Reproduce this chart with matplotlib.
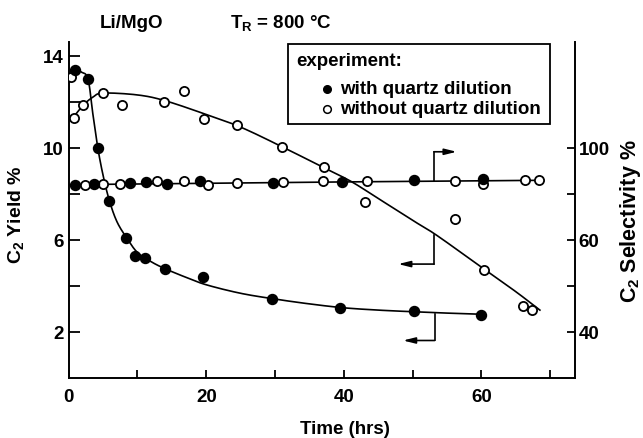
import numpy as np
import matplotlib
matplotlib.use("Agg")
import matplotlib.pyplot as plt
from matplotlib.patches import Rectangle
from matplotlib.lines import Line2D

plt.rcParams['font.family'] = ['Liberation Sans', 'DejaVu Sans']
plt.rcParams['font.weight'] = 'bold'
plt.rcParams['axes.labelweight'] = 'bold'
plt.rcParams['mathtext.fontset'] = 'custom'
plt.rcParams['mathtext.rm'] = 'Liberation Sans:bold'
plt.rcParams['mathtext.it'] = 'Liberation Sans:bold'
plt.rcParams['mathtext.bf'] = 'Liberation Sans:bold'
FS = 13.5
plt.rcParams['font.size'] = FS

# ---------------- data ----------------
# C2 yield, with quartz dilution (filled)
t_yield_q = [0.9, 2.8, 4.2, 5.9, 8.4, 9.6, 11.1, 14.0, 19.5, 29.5, 39.5, 50.2, 60.0]
y_yield_q = [13.4, 13.0, 10.0, 7.7, 6.1, 5.3, 5.2, 4.75, 4.4, 3.45, 3.05, 2.9, 2.75]
# C2 yield, without quartz dilution (open)
t_yield_nq = [0.4, 0.7, 2.1, 5.0, 7.8, 13.9, 16.7, 19.7, 24.5, 31.0, 37.1, 43.1, 56.1, 60.3, 66.0, 67.3]
y_yield_nq = [13.1, 11.3, 11.85, 12.4, 11.85, 12.0, 12.45, 11.25, 11.0, 10.05, 9.15, 7.65, 6.9, 4.7, 3.15, 2.95]
# C2 selectivity (right axis units)
t_sel_q = [0.9, 3.7, 8.9, 11.2, 14.3, 19.1, 29.7, 39.8, 50.2, 60.2]
s_sel_q = [72.0, 72.2, 72.4, 72.6, 72.2, 72.9, 72.4, 72.6, 73.1, 73.2]
t_sel_nq = [2.4, 5.0, 7.4, 12.9, 16.7, 20.2, 24.4, 31.2, 37.0, 43.3, 56.1, 60.2, 66.3, 68.4]
s_sel_nq = [72.0, 72.2, 72.2, 72.9, 72.9, 72.0, 72.4, 72.5, 72.8, 72.9, 72.9, 72.2, 73.1, 73.1]

# fitted curves drawn through the data (knots)
fit_q_t = [0, 0.5, 1.0, 1.8, 2.8, 3.5, 4.2, 5.0, 5.9, 7.0, 8.4, 10, 12, 14, 17, 20, 25, 30, 35, 40, 45, 50, 55, 60]
fit_q_y = [12.9, 13.3, 13.42, 13.3, 13.0, 11.5, 10.05, 8.8, 7.72, 6.8, 6.1, 5.45, 5.05, 4.75, 4.38, 4.05, 3.68, 3.43, 3.22, 3.05, 2.95, 2.88, 2.82, 2.77]
fit_nq_t = [0.6, 2.1, 3.5, 5.0, 10, 14, 20, 25, 31, 37, 41, 45, 50, 53.5, 60.3, 65, 68.5]
fit_nq_y = [11.3, 11.85, 12.2, 12.38, 12.3, 12.05, 11.45, 10.9, 10.05, 9.15, 8.55, 7.8, 6.85, 6.2, 4.75, 3.75, 2.95]
fit_sel_t = [0, 20, 40, 68.5]
fit_sel_s = [72.0, 72.3, 72.6, 72.95]

x_ticks = [0, 10, 20, 30, 40, 50, 60, 70]
x_ticklabels = ['0', '', '20', '', '40', '', '60', '']
yl_ticks = [2, 4, 6, 8, 10, 12, 14]
yl_ticklabels = ['2', '', '6', '', '10', '', '14']
yr_ticks = [40, 50, 60, 70, 80]
yr_ticklabels = ['40', '', '60', '', '100']


def catmull(x, y, n=16):
    x = np.asarray(x, float); y = np.asarray(y, float)
    P = np.column_stack([x, y])
    P = np.vstack([2 * P[0] - P[1], P, 2 * P[-1] - P[-2]])
    out = []
    for i in range(1, len(P) - 2):
        p0, p1, p2, p3 = P[i - 1], P[i], P[i + 1], P[i + 2]
        for s in np.linspace(0, 1, n, endpoint=False):
            s2, s3 = s * s, s * s * s
            pt = 0.5 * ((2 * p1) + (-p0 + p2) * s + (2 * p0 - 5 * p1 + 4 * p2 - p3) * s2
                        + (-p0 + 3 * p1 - 3 * p2 + p3) * s3)
            out.append(pt)
    out.append(P[-2])
    out = np.array(out)
    return out[:, 0], out[:, 1]


W, H = 643, 439
fig = plt.figure(figsize=(W / 100, H / 100), dpi=100)
L, R, T, B = 68.7, 575, 43, 379
ax = fig.add_axes([L / W, 1 - B / H, (R - L) / W, (B - T) / H])
ax.set_xlim(0, 73.6)
ax.set_ylim(0, 14.6)
ax2 = ax.twinx()
ax2.set_ylim(30, 103)

lw = 1.2
for a in (ax, ax2):
    a.spines['top'].set_visible(False)
    a.patch.set_visible(False)
ax.spines['right'].set_visible(False)
ax2.spines['left'].set_visible(False)
ax2.spines['bottom'].set_visible(False)
for s in ('left', 'bottom'):
    ax.spines[s].set_linewidth(1.4)
ax2.spines['right'].set_linewidth(1.4)

ax.set_xticks(x_ticks, x_ticklabels)
ax.set_yticks(yl_ticks, yl_ticklabels)
ax2.set_yticks(yr_ticks, yr_ticklabels)
ax.tick_params(axis='x', direction='in', length=6, width=1.3, pad=7, labelsize=FS)
ax.tick_params(axis='y', direction='in', length=8, width=1.3, pad=3.5, labelsize=FS)
ax2.tick_params(axis='y', direction='in', length=6, width=1.3, pad=2.5, labelsize=FS)

# curves
cx, cy = catmull(fit_q_t, fit_q_y)
ax.plot(cx, cy, color='k', lw=lw, zorder=2)
cx, cy = catmull(fit_nq_t, fit_nq_y)
ax.plot(cx, cy, color='k', lw=lw, zorder=2)
ax2.plot(fit_sel_t, fit_sel_s, color='k', lw=lw, zorder=2)

# points
ms_f, ms_o = 7.2, 6.6
ax.plot(t_yield_nq, y_yield_nq, 'o', ms=ms_o, mfc='white', mec='k', mew=1.3, zorder=3)
ax.plot(t_yield_q, y_yield_q, 'o', ms=ms_f, mfc='k', mec='k', zorder=4)
ax2.plot(t_sel_nq, s_sel_nq, 'o', ms=ms_o, mfc='white', mec='k', mew=1.3, zorder=3)
ax2.plot(t_sel_q, s_sel_q, 'o', ms=ms_f, mfc='k', mec='k', zorder=4)

# guide arrows (in left-axis units)
ap = dict(arrowstyle='-|>,head_length=0.6,head_width=0.15', lw=lw, color='k',
          shrinkA=0, shrinkB=0, mutation_scale=12)
ax.plot([53.1, 53.1], [8.55, 9.83], color='k', lw=lw)
ax.annotate('', xy=(56.4, 9.83), xytext=(53.1, 9.83), arrowprops=ap)
ax.plot([53.1, 53.1], [6.2, 4.95], color='k', lw=lw)
ax.annotate('', xy=(47.9, 4.95), xytext=(53.1, 4.95), arrowprops=ap)
ax.plot([53.2, 53.2], [2.8, 1.63], color='k', lw=lw)
ax.annotate('', xy=(48.6, 1.63), xytext=(53.2, 1.63), arrowprops=ap)

# labels
fig.text(345 / W, 1 - 430 / H, 'Time (hrs)', ha='center', va='center', fontsize=FS)
ax.set_ylabel('C$_2$ Yield %', fontsize=14)
ax.yaxis.set_label_coords(-0.085, 0.488)
ax2.set_ylabel('C$_2$ Selectivity %', fontsize=15.5)
ax2.yaxis.set_label_coords(1.084, 0.469)

fig.text(100 / W, 1 - 23 / H, 'Li/MgO', ha='left', va='center', fontsize=FS)
fig.text(230 / W, 1 - 23 / H, 'T$_R$ = 800 °C', ha='left', va='center', fontsize=FS)

# legend box
fig.add_artist(Rectangle((288 / W, 1 - 125 / H), (550 - 288) / W, (125 - 45) / H,
                         transform=fig.transFigure, facecolor='white', edgecolor='k',
                         lw=1.3, zorder=10))
fig.text(296 / W, 1 - 61 / H, 'experiment:', ha='left', va='center', fontsize=FS, zorder=11)
fig.add_artist(Line2D([326.5 / W], [1 - 89.5 / H], marker='o', ms=5.5, mfc='k', mec='k',
                      transform=fig.transFigure, zorder=11))
fig.add_artist(Line2D([326.5 / W], [1 - 109.5 / H], marker='o', ms=5.5, mfc='white', mec='k',
                      mew=1.1, transform=fig.transFigure, zorder=11))
fig.text(340 / W, 1 - 89 / H, 'with quartz dilution', ha='left', va='center', fontsize=FS, zorder=11)
fig.text(340 / W, 1 - 109 / H, 'without quartz dilution', ha='left', va='center', fontsize=FS, zorder=11)

fig.savefig('out.png', dpi=100)
